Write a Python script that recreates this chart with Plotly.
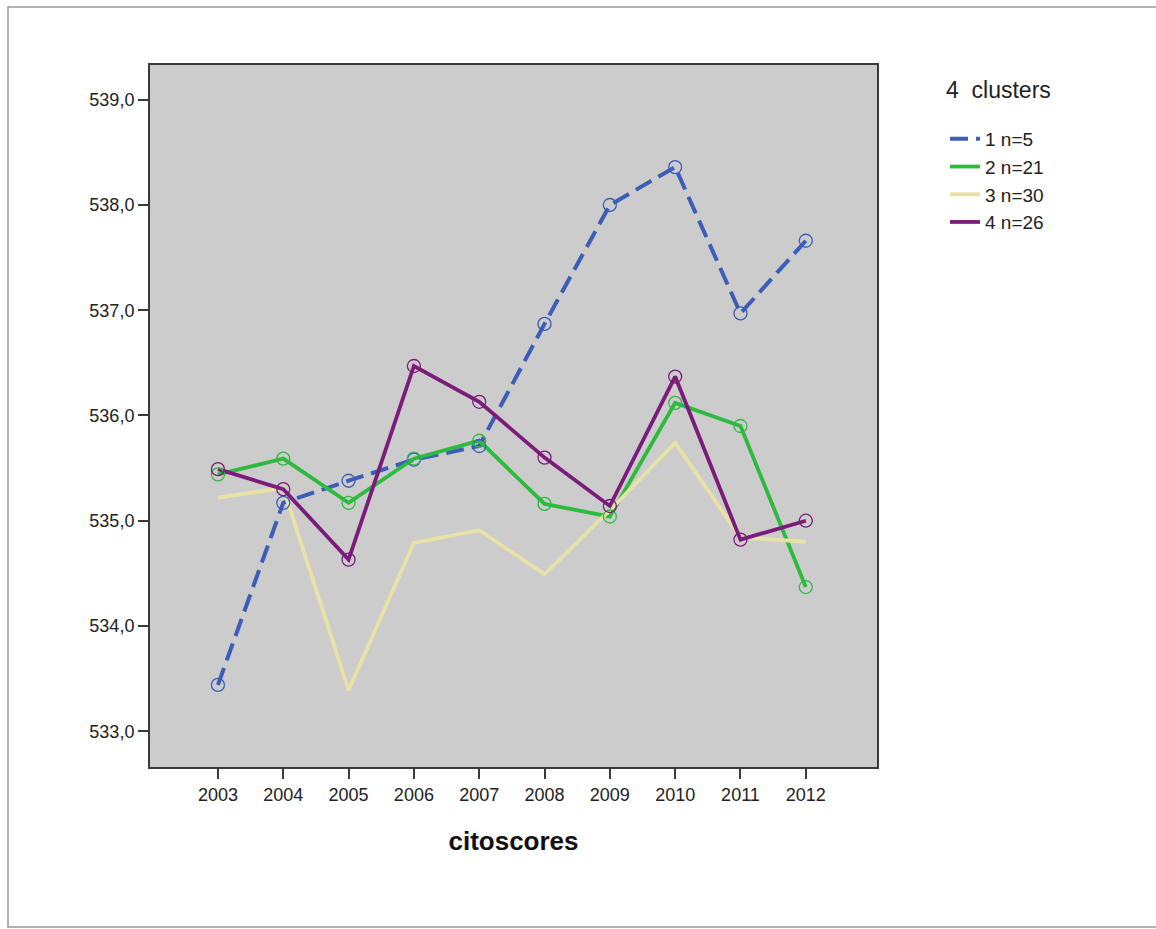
import plotly.graph_objects as go

years = [2003, 2004, 2005, 2006, 2007, 2008, 2009, 2010, 2011, 2012]
names = ["1 n=5", "2 n=21", "3 n=30", "4 n=26"]
s1 = [533.44, 535.17, 535.38, 535.58, 535.71, 536.87, 538.00, 538.36, 536.97, 537.66]
s2 = [535.44, 535.59, 535.17, 535.59, 535.76, 535.16, 535.04, 536.12, 535.90, 534.37]
s3 = [535.22, 535.31, 533.39, 534.79, 534.91, 534.49, 535.10, 535.74, 534.84, 534.80]
s4 = [535.49, 535.30, 534.63, 536.47, 536.13, 535.60, 535.14, 536.37, 534.82, 535.00]
y_ticks = [533, 534, 535, 536, 537, 538, 539]
legend_title = "4  clusters"

colors = ["#3C5DB8", "#2DBA3F", "#E8E2A6", "#7B1C7B"]
dashes = ["18px,8px", "solid", "solid", "solid"]
show_markers = [True, True, False, True]
series = [s1, s2, s3, s4]

FONT = "Liberation Sans, Arial, sans-serif"

fig = go.Figure()
for name, vals, c, d in zip(names, series, colors, dashes):
    fig.add_trace(go.Scatter(
        x=years, y=vals, name=name, mode="lines",
        line=dict(color=c, width=4 if d != "solid" else 3.8, dash=d),
    ))
for name, vals, c, m in zip(names, series, colors, show_markers):
    if m:
        fig.add_trace(go.Scatter(
            x=years, y=vals, name=name, mode="markers", showlegend=False,
            marker=dict(symbol="circle-open", size=13, color=c,
                        line=dict(color=c, width=1.3)),
        ))

fig.update_layout(
    width=1156, height=929,
    margin=dict(l=150, r=279, t=65, b=162),
    paper_bgcolor="white",
    plot_bgcolor="#CCCCCC",
    separators=",.",
    font=dict(family=FONT, size=18, color="#222"),
    showlegend=True,
    legend=dict(
        x=1.0935, y=(767 - 120) / 702, xanchor="left", yanchor="top",
        font=dict(size=19, color="#222"),
        bgcolor="rgba(0,0,0,0)",
    ),
    annotations=[dict(
        text=legend_title, xref="paper", yref="paper",
        x=(944 - 150) / 727, y=(767 - 90) / 702, xanchor="left", yanchor="middle",
        showarrow=False, font=dict(size=23, color="#222"),
    )],
    xaxis=dict(
        range=[2001.96, 2013.09], tickmode="array", tickvals=years,
        ticktext=[str(y) for y in years],
        showgrid=False, zeroline=False,
        showline=True, linecolor="#3a3a3a", linewidth=2, mirror=True,
        ticks="outside", ticklen=10, tickcolor="#3a3a3a", tickwidth=1.5,
        tickfont=dict(size=18, color="#222"),
        title=dict(text="<b>citoscores</b>", font=dict(size=26, color="#111"), standoff=28),
    ),
    yaxis=dict(
        range=[532.66, 539.33], tickmode="array", tickvals=y_ticks,
        tickformat=".1f",
        showgrid=False, zeroline=False,
        showline=True, linecolor="#3a3a3a", linewidth=2, mirror=True,
        ticks="outside", ticklen=10, tickcolor="#3a3a3a", tickwidth=1.5,
        tickfont=dict(size=18, color="#222"),
    ),
    shapes=[dict(
        type="rect", xref="paper", yref="paper",
        x0=(8 - 150) / 727, x1=(1170 - 150) / 727,
        y0=(767 - 927) / 702, y1=(767 - 7) / 702,
        line=dict(color="#999999", width=1.5), fillcolor="rgba(0,0,0,0)",
        layer="below",
    )],
)

fig.write_html("out.html", config={"displayModeBar": False},
               post_script="document.body.style.margin='0px';")
